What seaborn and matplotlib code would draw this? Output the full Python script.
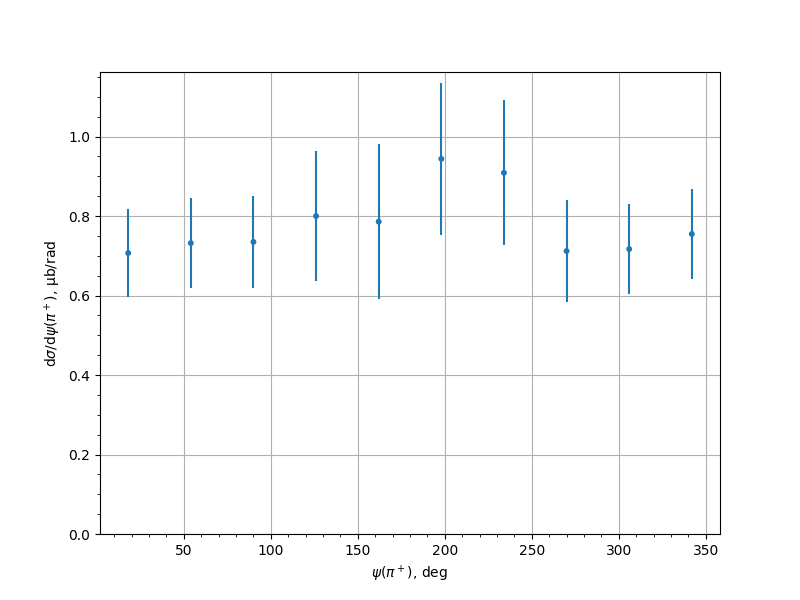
import numpy as np
import pandas as pd
import seaborn as sns
import matplotlib
matplotlib.use("Agg")
import matplotlib.pyplot as plt
from matplotlib.ticker import AutoMinorLocator

# psi bin centres (deg) and cross section values
psi = [18, 54, 90, 126, 162, 198, 234, 270, 306, 342]
xsec = [0.707, 0.732, 0.735, 0.800, 0.786, 0.944, 0.909, 0.712, 0.717, 0.755]
xsec_err = [0.110, 0.114, 0.115, 0.163, 0.195, 0.191, 0.183, 0.128, 0.113, 0.113]

df = pd.DataFrame({"psi": psi, "xsec": xsec})

fig, ax = plt.subplots(figsize=(8, 6), dpi=100)
ax.errorbar(psi, xsec, yerr=xsec_err, fmt="none", ecolor="C0", zorder=2)
sns.scatterplot(data=df, x="psi", y="xsec", ax=ax, color="C0", s=18,
                edgecolor="none", zorder=3)

ax.set_ylim(bottom=0)
ax.xaxis.set_minor_locator(AutoMinorLocator())
ax.yaxis.set_minor_locator(AutoMinorLocator())
ax.grid(True, which="major")
ax.set_axisbelow(True)

ax.set_xlabel(r"$\psi(\pi^+)$, deg")
ax.set_ylabel(r"d$\sigma$/d$\psi(\pi^+)$, μb/rad")

plt.savefig("out.png")
